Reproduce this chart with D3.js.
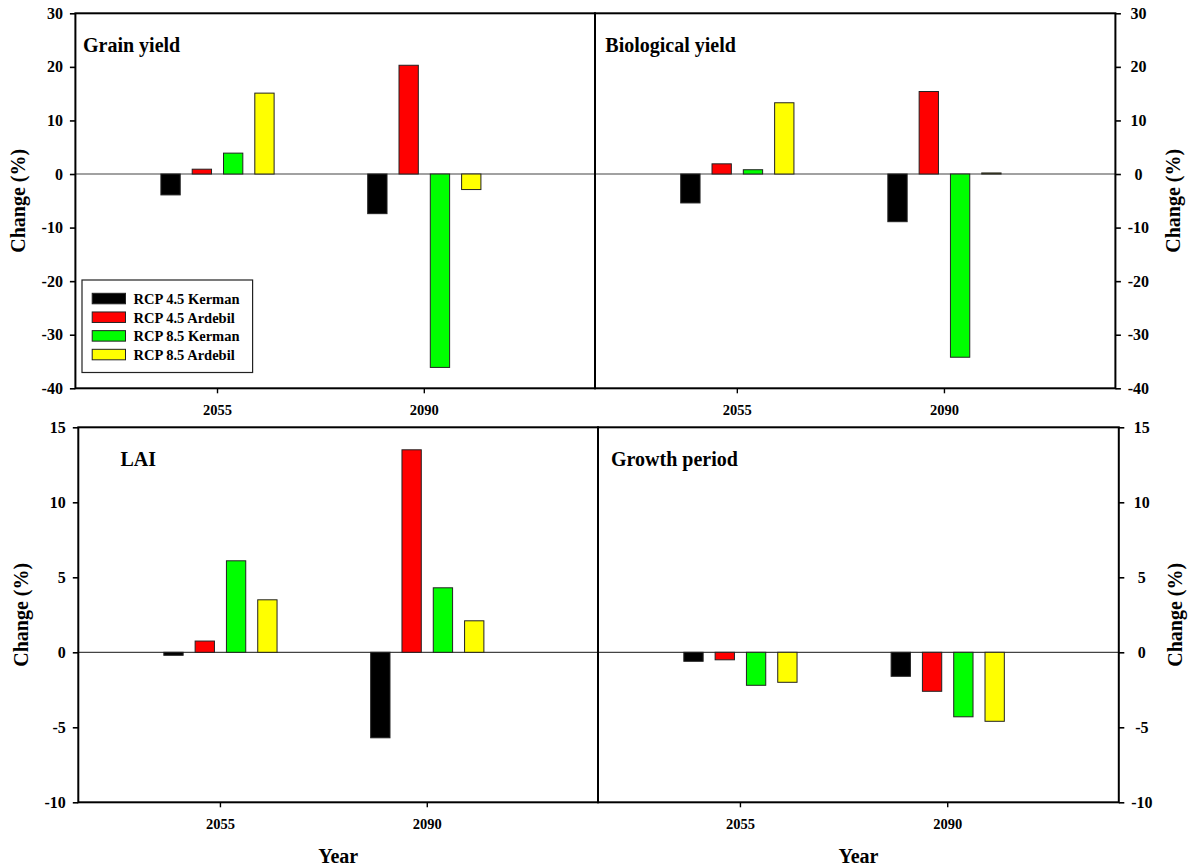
<!DOCTYPE html>
<html>
<head>
<meta charset="utf-8">
<script src="https://cdn.jsdelivr.net/npm/d3@7"></script>
<style>
  html, body { margin: 0; padding: 0; background: #fff; }
  svg { display: block; }
  text { font-family: "Liberation Serif", "Times New Roman", serif; font-weight: bold; fill: #000; }
</style>
</head>
<body>
<svg id="chart" width="1189" height="866"></svg>
<script>
// ---------------- DATA ----------------
const years = ["2055", "2090"];
const series = ["RCP 4.5 Kerman", "RCP 4.5 Ardebil", "RCP 8.5 Kerman", "RCP 8.5 Ardebil"];
const seriesColors = ["#000000", "#ff0000", "#00ff00", "#ffff00"];

// values per year: [RCP4.5 Kerman, RCP4.5 Ardebil, RCP8.5 Kerman, RCP8.5 Ardebil]
const grainYield2055 = [-3.9, 0.9, 3.9, 15.1];
const grainYield2090 = [-7.4, 20.3, -36.1, -2.9];
const biologicalYield2055 = [-5.4, 1.9, 0.8, 13.3];
const biologicalYield2090 = [-8.9, 15.4, -34.2, 0.2];
const lai2055 = [-0.2, 0.75, 6.1, 3.5];
const lai2090 = [-5.7, 13.5, 4.3, 2.1];
const growthPeriod2055 = [-0.6, -0.5, -2.2, -2.0];
const growthPeriod2090 = [-1.6, -2.6, -4.3, -4.6];

const topTicks = [-40, -30, -20, -10, 0, 10, 20, 30];
const bottomTicks = [-10, -5, 0, 5, 10, 15];
const topDomain = [-40, 30];
const bottomDomain = [-10, 15];

const yLabel = "Change (%)";
const xLabel = "Year";

// ---------------- LAYOUT ----------------
const rows = {
  top:    { T: 13.3,  B: 388.3, L: 75.4, D: 595,   R: 1115.4 },
  bottom: { T: 427.3, B: 802.3, L: 78.3, D: 598,   R: 1118.8 }
};

const panels = [
  { title: "Grain yield",      row: "top",    side: "left",  vals: [grainYield2055, grainYield2090],           ticks: topTicks,    domain: topDomain,    tx: 83,    ty: 52.3, ylx: 25.1 },
  { title: "Biological yield", row: "top",    side: "right", vals: [biologicalYield2055, biologicalYield2090], ticks: topTicks,    domain: topDomain,    tx: 605.3, ty: 52.3, ylx: 1179.6 },
  { title: "LAI",              row: "bottom", side: "left",  vals: [lai2055, lai2090],                         ticks: bottomTicks, domain: bottomDomain, tx: 120.5, ty: 465.7, ylx: 28.1 },
  { title: "Growth period",    row: "bottom", side: "right", vals: [growthPeriod2055, growthPeriod2090],       ticks: bottomTicks, domain: bottomDomain, tx: 611,   ty: 466,   ylx: 1181.6 }
];

const fmt = d => String(d); // plain hyphen minus, as in the original

const svg = d3.select("#chart");

panels.forEach(p => {
  const r = rows[p.row];
  const x0 = p.side === "left" ? r.L : r.D;
  const x1 = p.side === "left" ? r.D : r.R;
  const W = x1 - x0;

  const y = d3.scaleLinear().domain(p.domain).range([r.B, r.T]);
  const xg = d3.scaleBand().domain(years).range([x0 + 0.0745 * W, x0 + 0.8705 * W]);
  const xs = d3.scaleBand().domain(series).range([-62.6, 62.6]).paddingInner(0.383).paddingOuter(0.1915);

  const g = svg.append("g");

  // zero line
  g.append("line")
    .attr("x1", x0).attr("x2", x1)
    .attr("y1", y(0)).attr("y2", y(0))
    .attr("stroke", "#444").attr("stroke-width", 1.2);

  // bars
  years.forEach((yr, i) => {
    const center = xg(yr) + xg.bandwidth() / 2;
    g.selectAll(null)
      .data(p.vals[i].map((v, k) => ({ v, s: series[k], c: seriesColors[k] })))
      .enter().append("rect")
      .attr("x", d => center + xs(d.s))
      .attr("width", xs.bandwidth())
      .attr("y", d => y(Math.max(0, d.v)))
      .attr("height", d => Math.abs(y(d.v) - y(0)))
      .attr("fill", d => d.c)
      .attr("stroke", "#222")
      .attr("stroke-width", 1);
  });

  // frame
  g.append("rect")
    .attr("x", x0).attr("y", r.T)
    .attr("width", W).attr("height", r.B - r.T)
    .attr("fill", "none").attr("stroke", "#000").attr("stroke-width", 2);

  // y axis
  if (p.side === "left") {
    const ax = g.append("g").attr("transform", `translate(${x0},0)`)
      .call(d3.axisLeft(y).tickValues(p.ticks).tickSize(5.5).tickPadding(7).tickFormat(fmt));
    ax.select(".domain").remove();
    ax.selectAll(".tick line").attr("stroke", "#000").attr("stroke-width", 1.6);
    ax.selectAll(".tick text").style("font-size", "16px").attr("font-family", null);
  } else {
    const ax = g.append("g").attr("transform", `translate(${x1},0)`)
      .call(d3.axisRight(y).tickValues(p.ticks).tickSize(5.5).tickPadding(7).tickFormat(fmt));
    ax.select(".domain").remove();
    ax.selectAll(".tick line").attr("stroke", "#000").attr("stroke-width", 1.6);
    ax.selectAll(".tick text").style("font-size", "16px").attr("font-family", null)
      .attr("text-anchor", "middle").attr("x", 23);
  }

  // x axis
  const axb = g.append("g").attr("transform", `translate(0,${r.B})`)
    .call(d3.axisBottom(xg).tickSize(5).tickPadding(11.4));
  axb.select(".domain").remove();
  axb.selectAll(".tick line").attr("stroke", "#000").attr("stroke-width", 1.4);
  axb.selectAll(".tick text").style("font-size", "14.5px").attr("font-family", null);

  // title
  g.append("text").attr("x", p.tx).attr("y", p.ty)
    .style("font-size", "20px").text(p.title);

  // y label
  g.append("text")
    .attr("transform", `translate(${p.ylx},${(r.T + r.B) / 2}) rotate(-90)`)
    .attr("text-anchor", "middle")
    .style("font-size", "20px")
    .text(yLabel);

  // x label (bottom row only)
  if (p.row === "bottom") {
    g.append("text")
      .attr("x", x0 + W / 2).attr("y", 863.3)
      .attr("text-anchor", "middle")
      .style("font-size", "20px")
      .text(xLabel);
  }

  // legend in first panel
  if (p.title === "Grain yield") {
    const lg = g.append("g");
    lg.append("rect")
      .attr("x", 82).attr("y", 280).attr("width", 170.6).attr("height", 92.5)
      .attr("fill", "#fff").attr("stroke", "#222").attr("stroke-width", 1.2);
    series.forEach((s, k) => {
      const ry = 293.3 + k * 18.67;
      lg.append("rect")
        .attr("x", 92.2).attr("y", ry).attr("width", 33.3).attr("height", 10.5)
        .attr("fill", seriesColors[k]).attr("stroke", "#222").attr("stroke-width", 1);
      lg.append("text")
        .attr("x", 133.6).attr("y", ry + 10.7)
        .style("font-size", "14.5px")
        .text(s);
    });
  }
});
</script>
</body>
</html>
